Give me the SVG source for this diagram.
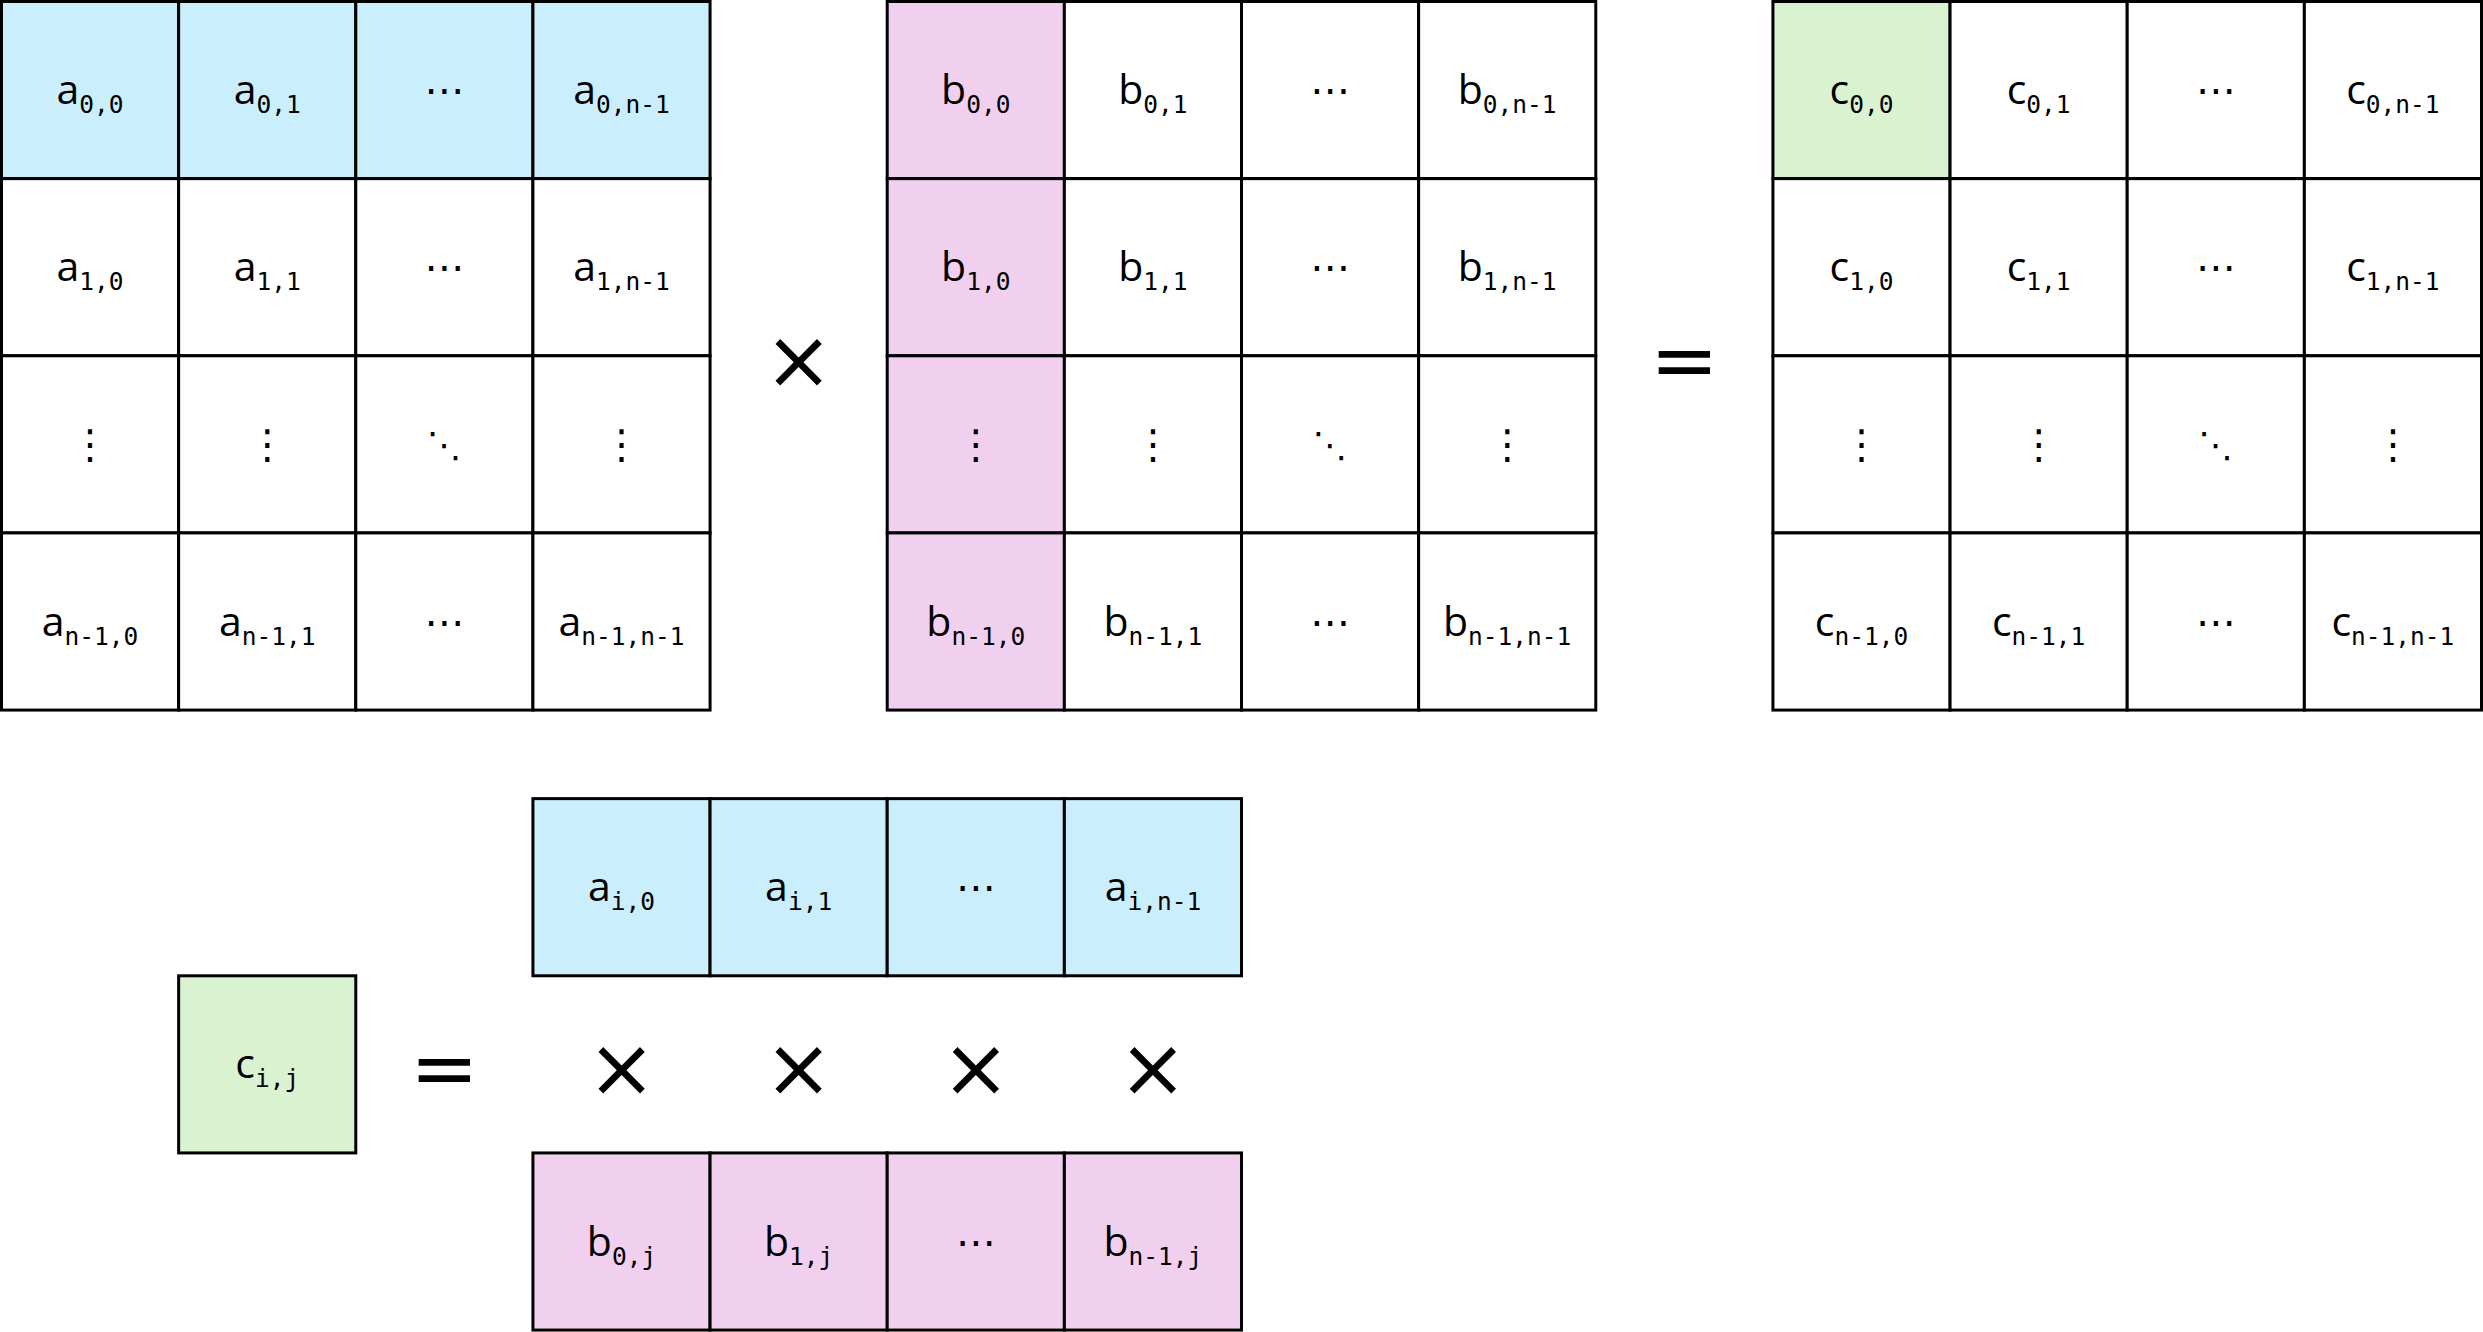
<svg xmlns="http://www.w3.org/2000/svg" width="2483" height="1332" viewBox="0 0 2483 1332">
<style>
.cell{stroke:#000;stroke-width:3}
.w{fill:#fff}.bl{fill:#CAEEFB}.pk{fill:#F1CFEE}.gr{fill:#D9F2D0}
.l{font-family:"Open Sans","Noto Sans",sans-serif;font-size:41px;text-anchor:middle;fill:#000}
.s{font-family:"DejaVu Sans Mono","Liberation Mono",monospace;font-size:24.5px}
.d{font-family:"DejaVu Sans",sans-serif;font-size:40px;text-anchor:middle;fill:#000}
.dg{font-family:"DejaVu Sans",sans-serif;font-size:35px;text-anchor:middle;fill:#000}
.op{font-family:"DejaVu Sans",sans-serif;font-size:82px;text-anchor:middle;fill:#000}
</style>
<rect x="0" y="0" width="2483" height="1332" fill="#fff"/>
<g id="matrixA">
<g id="a00"><rect class="cell bl" x="1.5" y="1.5" width="177.14" height="177.14"/><text class="l" x="90.07" y="104">a<tspan class="s" dy="9">0,0</tspan></text></g>
<g id="a01"><rect class="cell bl" x="178.64" y="1.5" width="177.14" height="177.14"/><text class="l" x="267.21" y="104">a<tspan class="s" dy="9">0,1</tspan></text></g>
<g id="a02"><rect class="cell bl" x="355.79" y="1.5" width="177.14" height="177.14"/><text class="d" x="444.36" y="104">⋯</text></g>
<g id="a03"><rect class="cell bl" x="532.93" y="1.5" width="177.14" height="177.14"/><text class="l" x="621.5" y="104">a<tspan class="s" dy="9">0,n-1</tspan></text></g>
<g id="a10"><rect class="cell w" x="1.5" y="178.64" width="177.14" height="177.14"/><text class="l" x="90.07" y="281.2">a<tspan class="s" dy="9">1,0</tspan></text></g>
<g id="a11"><rect class="cell w" x="178.64" y="178.64" width="177.14" height="177.14"/><text class="l" x="267.21" y="281.2">a<tspan class="s" dy="9">1,1</tspan></text></g>
<g id="a12"><rect class="cell w" x="355.79" y="178.64" width="177.14" height="177.14"/><text class="d" x="444.36" y="281.2">⋯</text></g>
<g id="a13"><rect class="cell w" x="532.93" y="178.64" width="177.14" height="177.14"/><text class="l" x="621.5" y="281.2">a<tspan class="s" dy="9">1,n-1</tspan></text></g>
<g id="a20"><rect class="cell w" x="1.5" y="355.79" width="177.14" height="177.14"/><text class="d" x="90.07" y="458.4">⋮</text></g>
<g id="a21"><rect class="cell w" x="178.64" y="355.79" width="177.14" height="177.14"/><text class="d" x="267.21" y="458.4">⋮</text></g>
<g id="a22"><rect class="cell w" x="355.79" y="355.79" width="177.14" height="177.14"/><text class="dg" x="444.36" y="456.5">⋱</text></g>
<g id="a23"><rect class="cell w" x="532.93" y="355.79" width="177.14" height="177.14"/><text class="d" x="621.5" y="458.4">⋮</text></g>
<g id="a30"><rect class="cell w" x="1.5" y="532.93" width="177.14" height="177.14"/><text class="l" x="90.07" y="635.5">a<tspan class="s" dy="9">n-1,0</tspan></text></g>
<g id="a31"><rect class="cell w" x="178.64" y="532.93" width="177.14" height="177.14"/><text class="l" x="267.21" y="635.5">a<tspan class="s" dy="9">n-1,1</tspan></text></g>
<g id="a32"><rect class="cell w" x="355.79" y="532.93" width="177.14" height="177.14"/><text class="d" x="444.36" y="635.5">⋯</text></g>
<g id="a33"><rect class="cell w" x="532.93" y="532.93" width="177.14" height="177.14"/><text class="l" x="621.5" y="635.5">a<tspan class="s" dy="9">n-1,n-1</tspan></text></g>
</g>
<g id="times-main"><text class="op" x="798.64" y="388">×</text></g>
<g id="matrixB">
<g id="b00"><rect class="cell pk" x="887.21" y="1.5" width="177.14" height="177.14"/><text class="l" x="975.79" y="104">b<tspan class="s" dy="9">0,0</tspan></text></g>
<g id="b01"><rect class="cell w" x="1064.36" y="1.5" width="177.14" height="177.14"/><text class="l" x="1152.93" y="104">b<tspan class="s" dy="9">0,1</tspan></text></g>
<g id="b02"><rect class="cell w" x="1241.5" y="1.5" width="177.14" height="177.14"/><text class="d" x="1330.07" y="104">⋯</text></g>
<g id="b03"><rect class="cell w" x="1418.64" y="1.5" width="177.14" height="177.14"/><text class="l" x="1507.21" y="104">b<tspan class="s" dy="9">0,n-1</tspan></text></g>
<g id="b10"><rect class="cell pk" x="887.21" y="178.64" width="177.14" height="177.14"/><text class="l" x="975.79" y="281.2">b<tspan class="s" dy="9">1,0</tspan></text></g>
<g id="b11"><rect class="cell w" x="1064.36" y="178.64" width="177.14" height="177.14"/><text class="l" x="1152.93" y="281.2">b<tspan class="s" dy="9">1,1</tspan></text></g>
<g id="b12"><rect class="cell w" x="1241.5" y="178.64" width="177.14" height="177.14"/><text class="d" x="1330.07" y="281.2">⋯</text></g>
<g id="b13"><rect class="cell w" x="1418.64" y="178.64" width="177.14" height="177.14"/><text class="l" x="1507.21" y="281.2">b<tspan class="s" dy="9">1,n-1</tspan></text></g>
<g id="b20"><rect class="cell pk" x="887.21" y="355.79" width="177.14" height="177.14"/><text class="d" x="975.79" y="458.4">⋮</text></g>
<g id="b21"><rect class="cell w" x="1064.36" y="355.79" width="177.14" height="177.14"/><text class="d" x="1152.93" y="458.4">⋮</text></g>
<g id="b22"><rect class="cell w" x="1241.5" y="355.79" width="177.14" height="177.14"/><text class="dg" x="1330.07" y="456.5">⋱</text></g>
<g id="b23"><rect class="cell w" x="1418.64" y="355.79" width="177.14" height="177.14"/><text class="d" x="1507.21" y="458.4">⋮</text></g>
<g id="b30"><rect class="cell pk" x="887.21" y="532.93" width="177.14" height="177.14"/><text class="l" x="975.79" y="635.5">b<tspan class="s" dy="9">n-1,0</tspan></text></g>
<g id="b31"><rect class="cell w" x="1064.36" y="532.93" width="177.14" height="177.14"/><text class="l" x="1152.93" y="635.5">b<tspan class="s" dy="9">n-1,1</tspan></text></g>
<g id="b32"><rect class="cell w" x="1241.5" y="532.93" width="177.14" height="177.14"/><text class="d" x="1330.07" y="635.5">⋯</text></g>
<g id="b33"><rect class="cell w" x="1418.64" y="532.93" width="177.14" height="177.14"/><text class="l" x="1507.21" y="635.5">b<tspan class="s" dy="9">n-1,n-1</tspan></text></g>
</g>
<g id="equals-main"><text class="op" x="1684.36" y="388">=</text></g>
<g id="matrixC">
<g id="c00"><rect class="cell gr" x="1772.93" y="1.5" width="177.14" height="177.14"/><text class="l" x="1861.5" y="104">c<tspan class="s" dy="9">0,0</tspan></text></g>
<g id="c01"><rect class="cell w" x="1950.07" y="1.5" width="177.14" height="177.14"/><text class="l" x="2038.64" y="104">c<tspan class="s" dy="9">0,1</tspan></text></g>
<g id="c02"><rect class="cell w" x="2127.21" y="1.5" width="177.14" height="177.14"/><text class="d" x="2215.79" y="104">⋯</text></g>
<g id="c03"><rect class="cell w" x="2304.36" y="1.5" width="177.14" height="177.14"/><text class="l" x="2392.93" y="104">c<tspan class="s" dy="9">0,n-1</tspan></text></g>
<g id="c10"><rect class="cell w" x="1772.93" y="178.64" width="177.14" height="177.14"/><text class="l" x="1861.5" y="281.2">c<tspan class="s" dy="9">1,0</tspan></text></g>
<g id="c11"><rect class="cell w" x="1950.07" y="178.64" width="177.14" height="177.14"/><text class="l" x="2038.64" y="281.2">c<tspan class="s" dy="9">1,1</tspan></text></g>
<g id="c12"><rect class="cell w" x="2127.21" y="178.64" width="177.14" height="177.14"/><text class="d" x="2215.79" y="281.2">⋯</text></g>
<g id="c13"><rect class="cell w" x="2304.36" y="178.64" width="177.14" height="177.14"/><text class="l" x="2392.93" y="281.2">c<tspan class="s" dy="9">1,n-1</tspan></text></g>
<g id="c20"><rect class="cell w" x="1772.93" y="355.79" width="177.14" height="177.14"/><text class="d" x="1861.5" y="458.4">⋮</text></g>
<g id="c21"><rect class="cell w" x="1950.07" y="355.79" width="177.14" height="177.14"/><text class="d" x="2038.64" y="458.4">⋮</text></g>
<g id="c22"><rect class="cell w" x="2127.21" y="355.79" width="177.14" height="177.14"/><text class="dg" x="2215.79" y="456.5">⋱</text></g>
<g id="c23"><rect class="cell w" x="2304.36" y="355.79" width="177.14" height="177.14"/><text class="d" x="2392.93" y="458.4">⋮</text></g>
<g id="c30"><rect class="cell w" x="1772.93" y="532.93" width="177.14" height="177.14"/><text class="l" x="1861.5" y="635.5">c<tspan class="s" dy="9">n-1,0</tspan></text></g>
<g id="c31"><rect class="cell w" x="1950.07" y="532.93" width="177.14" height="177.14"/><text class="l" x="2038.64" y="635.5">c<tspan class="s" dy="9">n-1,1</tspan></text></g>
<g id="c32"><rect class="cell w" x="2127.21" y="532.93" width="177.14" height="177.14"/><text class="d" x="2215.79" y="635.5">⋯</text></g>
<g id="c33"><rect class="cell w" x="2304.36" y="532.93" width="177.14" height="177.14"/><text class="l" x="2392.93" y="635.5">c<tspan class="s" dy="9">n-1,n-1</tspan></text></g>
</g>
<g id="cij"><rect class="cell gr" x="178.64" y="975.79" width="177.14" height="177.14"/><text class="l" x="267.21" y="1078.4">c<tspan class="s" dy="9">i,j</tspan></text></g>
<g id="equals-bottom"><text class="op" x="444.36" y="1096">=</text></g>
<g id="rowA">
<g id="ai0"><rect class="cell bl" x="532.93" y="798.64" width="177.14" height="177.14"/><text class="l" x="621.5" y="901.2">a<tspan class="s" dy="9">i,0</tspan></text></g>
<g id="ai1"><rect class="cell bl" x="710.07" y="798.64" width="177.14" height="177.14"/><text class="l" x="798.64" y="901.2">a<tspan class="s" dy="9">i,1</tspan></text></g>
<g id="ai2"><rect class="cell bl" x="887.21" y="798.64" width="177.14" height="177.14"/><text class="d" x="975.79" y="901.2">⋯</text></g>
<g id="ai3"><rect class="cell bl" x="1064.36" y="798.64" width="177.14" height="177.14"/><text class="l" x="1152.93" y="901.2">a<tspan class="s" dy="9">i,n-1</tspan></text></g>
</g>
<g id="times-row">
<text class="op" x="621.5" y="1096">×</text>
<text class="op" x="798.64" y="1096">×</text>
<text class="op" x="975.79" y="1096">×</text>
<text class="op" x="1152.93" y="1096">×</text>
</g>
<g id="colB">
<g id="b0j"><rect class="cell pk" x="532.93" y="1152.93" width="177.14" height="177.14"/><text class="l" x="621.5" y="1255.5">b<tspan class="s" dy="9">0,j</tspan></text></g>
<g id="b1j"><rect class="cell pk" x="710.07" y="1152.93" width="177.14" height="177.14"/><text class="l" x="798.64" y="1255.5">b<tspan class="s" dy="9">1,j</tspan></text></g>
<g id="b2j"><rect class="cell pk" x="887.21" y="1152.93" width="177.14" height="177.14"/><text class="d" x="975.79" y="1255.5">⋯</text></g>
<g id="b3j"><rect class="cell pk" x="1064.36" y="1152.93" width="177.14" height="177.14"/><text class="l" x="1152.93" y="1255.5">b<tspan class="s" dy="9">n-1,j</tspan></text></g>
</g>
</svg>
